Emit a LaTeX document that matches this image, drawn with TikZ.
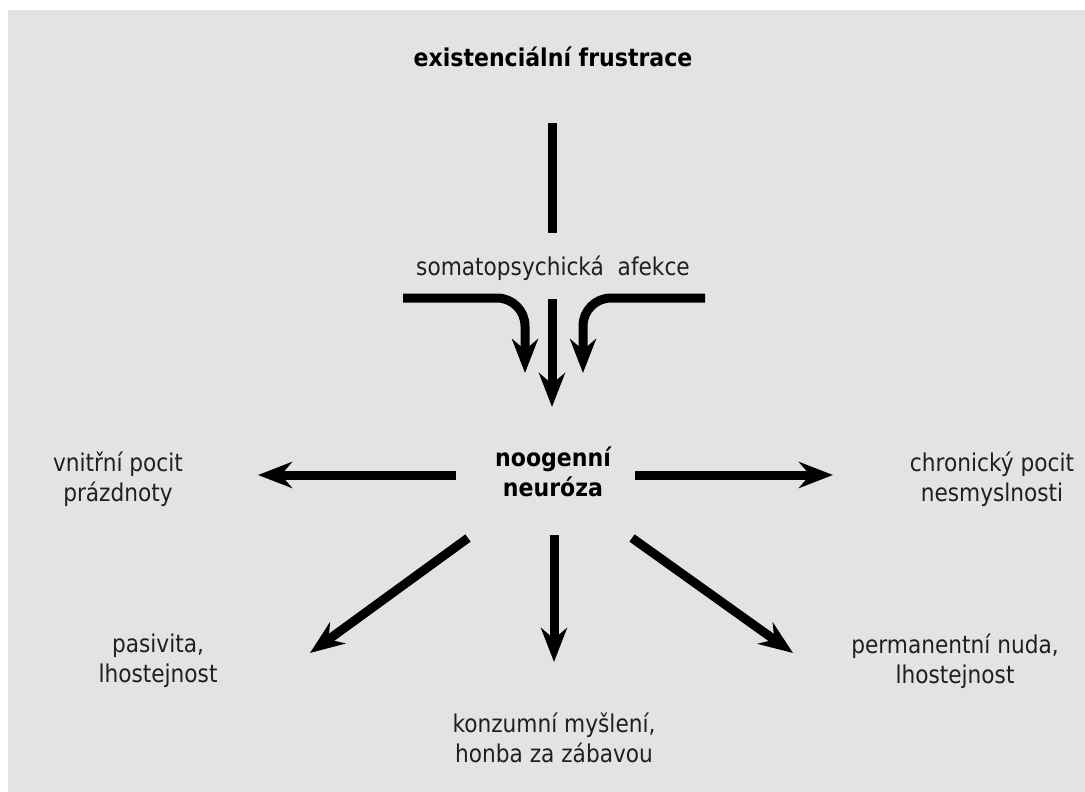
\documentclass[tikz,border=0pt]{standalone}
\usepackage{fontspec}
\setmainfont{DejaVu Sans}[FakeStretch=0.885, BoldFeatures={FakeStretch=0.9}]
\usetikzlibrary{arrows.meta}

\begin{document}
\begin{tikzpicture}[x=1pt,y=-1pt,
  lbl/.style={font=\fontsize{24.5}{30}\selectfont, align=center, inner sep=0pt, text=black!88},
  hdr/.style={font=\fontsize{24.5}{30}\selectfont\bfseries, align=center, inner sep=0pt},
  thick bar/.style={line width=9pt, line cap=butt},
  arr/.style={thick bar, -{Stealth[length=34pt, width=26pt, inset=11pt]}}
]
% canvas
\useasboundingbox (0,0) rectangle (1085,792);
\fill[white] (0,0) rectangle (1085,792);
\fill[fill={rgb,255:red,226;green,227;blue,226}] (8,10) rectangle (1085,792);

% labels
\node[hdr] (frust) at (553,57) {existenciální frustrace};
\node[lbl] (soma) at (553,268) {somatopsychická\ \ afekce};
\node[hdr] (neur) at (553,472) {noogenní\\neuróza};
\node[lbl] (prazd) at (118,479) {vnitřní pocit\\prázdnoty};
\node[lbl] (nesm) at (992,479) {chronický pocit\\nesmyslnosti};
\node[lbl] (pas) at (158,661) {pasivita,\\lhostejnost};
\node[lbl] (konz) at (554,738) {konzumní myšlení,\\honba za zábavou};
\node[lbl] (nuda) at (955,661) {permanentní nuda,\\lhostejnost};

% connector end points
\coordinate (v1) at (552,123);
\coordinate (v2) at (552,233);
\coordinate (sl) at (403,298);
\coordinate (sr) at (705,298);
\coordinate (tl) at (525,373);
\coordinate (tr) at (583,373);
\coordinate (c1) at (552,299);
\coordinate (c2) at (552,407);
\coordinate (l1) at (456,475);
\coordinate (l2) at (258,475);
\coordinate (r1) at (635,475);
\coordinate (r2) at (833,475);
\coordinate (dl1) at (468,538);
\coordinate (dl2) at (310,653);
\coordinate (d1) at (554,535);
\coordinate (d2) at (554,662);
\coordinate (dr1) at (632,538);
\coordinate (dr2) at (793,653);

% frustration feeds the affect
\draw[thick bar] (v1) -- (v2);

% converging arrows into the neurosis
\draw[arr, rounded corners=28pt] (sl) -| (tl);
\draw[arr, rounded corners=28pt] (sr) -| (tr);
\draw[arr] (c1) -- (c2);

% consequences
\draw[arr] (l1) -- (l2);
\draw[arr] (r1) -- (r2);
\draw[arr] (dl1) -- (dl2);
\draw[arr] (d1) -- (d2);
\draw[arr] (dr1) -- (dr2);
\end{tikzpicture}
\end{document}
